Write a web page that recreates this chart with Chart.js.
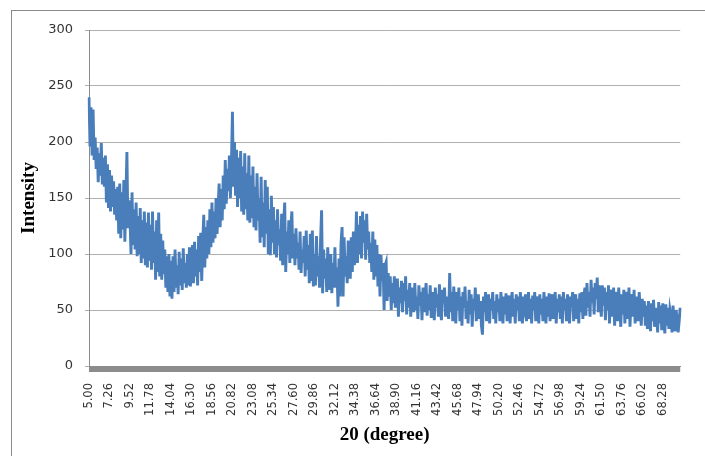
<!DOCTYPE html>
<html>
<head>
<meta charset="utf-8">
<script src="https://cdn.jsdelivr.net/npm/chart.js@4"></script>
<style>
  html, body { margin: 0; padding: 0; background: #fff; overflow: hidden; }
  #wrap { position: relative; width: 705px; height: 456px; }
  #frame { position: absolute; left: 11px; top: 10px; width: 720px; height: 470px; border: 1px solid #8a8a8a; }
  canvas { position: absolute; left: 0; top: 0; }
</style>
</head>
<body>
<div id="wrap">
  <div id="frame"></div>
  <canvas id="xrd" width="705" height="456"></canvas>
</div>
<script>
// 2θ sampling: one point every 0.113°, a label every 20th point
const startAngle = 5.00;
const angleStep = 0.113;
const labelEvery = 20;

// intensity, 20 points per label interval
const intensity = [
  240, 196, 231, 188, 229, 184, 204, 176, 195, 164, 190, 170, 199, 162, 186, 160, 188, 146, 180, 141,
  175, 138, 170, 142, 165, 135, 158, 130, 160, 118, 163, 114, 155, 122, 166, 111, 150, 191, 123, 148,
  132, 100, 155, 108, 140, 104, 146, 98, 134, 100, 141, 92, 130, 96, 138, 90, 128, 88, 137, 94,
  126, 86, 138, 92, 120, 77, 130, 84, 137, 80, 118, 77, 112, 82, 104, 70, 98, 66, 100, 62,
  94, 60, 98, 66, 104, 70, 90, 64, 102, 72, 96, 68, 105, 74, 92, 70, 100, 72, 106, 71,
  94, 108, 74, 111, 80, 104, 72, 116, 84, 119, 76, 110, 135, 88, 124, 96, 130, 100, 140, 106,
  146, 110, 138, 114, 150, 118, 142, 163, 124, 158, 130, 170, 140, 184, 145, 176, 156, 188, 150, 180,
  227, 160, 200, 152, 193, 142, 186, 150, 192, 138, 178, 135, 190, 140, 172, 130, 188, 128, 170, 132,
  178, 124, 160, 121, 172, 130, 150, 110, 169, 115, 146, 106, 166, 118, 160, 100, 140, 99, 152, 110,
  142, 100, 130, 97, 140, 108, 122, 94, 136, 90, 128, 146, 84, 120, 100, 130, 92, 124, 138, 96,
  118, 90, 123, 96, 110, 86, 120, 83, 104, 92, 116, 80, 121, 86, 108, 74, 118, 76, 121, 71,
  100, 72, 116, 80, 98, 70, 112, 139, 65, 104, 78, 96, 66, 106, 82, 68, 100, 65, 92, 70,
  106, 70, 88, 53, 96, 62, 110, 124, 62, 115, 80, 98, 74, 112, 90, 78, 115, 84, 120, 90,
  100, 138, 92, 126, 100, 134, 96, 138, 110, 130, 95, 136, 104, 120, 92, 110, 84, 120, 77, 113,
  80, 108, 71, 100, 62, 99, 76, 92, 50, 90, 93, 58, 83, 62, 80, 50, 74, 56, 80, 52,
  66, 78, 44, 70, 56, 76, 48, 74, 58, 80, 46, 68, 52, 74, 44, 64, 70, 48, 74, 50,
  62, 42, 72, 54, 66, 41, 70, 48, 60, 74, 45, 64, 50, 72, 43, 66, 56, 41, 70, 52,
  64, 44, 73, 50, 41, 68, 56, 70, 44, 62, 52, 42, 83, 48, 66, 40, 71, 54, 38, 66,
  50, 70, 40, 62, 36, 66, 52, 71, 42, 58, 38, 68, 46, 64, 35, 60, 50, 70, 40, 56,
  64, 42, 58, 36, 28, 62, 48, 66, 40, 56, 64, 38, 60, 50, 66, 42, 58, 38, 64, 48,
  60, 40, 66, 52, 38, 62, 46, 65, 40, 56, 63, 38, 58, 66, 44, 60, 38, 64, 50, 62,
  40, 66, 48, 38, 62, 54, 64, 40, 58, 66, 42, 60, 38, 63, 50, 66, 40, 56, 62, 38,
  64, 46, 60, 40, 66, 52, 38, 62, 44, 65, 40, 58, 64, 42, 56, 66, 38, 60, 48, 64,
  42, 62, 38, 66, 50, 60, 40, 64, 46, 38, 62, 54, 66, 40, 58, 64, 42, 60, 38, 65,
  48, 66, 42, 62, 70, 45, 74, 52, 66, 44, 77, 56, 70, 46, 74, 60, 79, 48, 72, 56,
  44, 72, 54, 70, 41, 66, 50, 72, 38, 62, 68, 44, 70, 36, 60, 66, 40, 70, 52, 35,
  64, 46, 68, 38, 60, 66, 42, 70, 35, 58, 64, 44, 68, 38, 56, 62, 40, 66, 50, 36,
  60, 44, 58, 36, 54, 33, 58, 46, 31, 56, 40, 59, 35, 52, 44, 30, 57, 38, 54, 32,
  56, 42, 29, 55, 36, 52, 33, 50, 44, 30, 54, 38, 31, 50, 42, 30, 40, 52
];

const angles = intensity.map((_, i) => (startAngle + i * angleStep).toFixed(2));

const yTicks = [0, 50, 100, 150, 200, 250, 300];

// Excel draws the dense category tick marks as a solid grey strip under the axis
const axisBand = {
  id: 'axisBand',
  afterDraw(chart) {
    const { ctx, chartArea: a } = chart;
    ctx.save();
    ctx.fillStyle = '#8c8c8c';
    ctx.fillRect(a.left, a.bottom, a.right - a.left, 6);
    ctx.restore();
  }
};

const ctx = document.getElementById('xrd').getContext('2d');
new Chart(ctx, {
  type: 'line',
  data: {
    labels: angles,
    datasets: [{
      data: intensity,
      borderColor: '#4a7ebb',
      borderWidth: 2.9,
      pointRadius: 0,
      tension: 0,
      fill: false
    }]
  },
  options: {
    responsive: false,
    animation: false,
    layout: { padding: { top: 30, right: 5, bottom: 0, left: 0 } },
    plugins: {
      legend: { display: false },
      tooltip: { enabled: false }
    },
    scales: {
      x: {
        type: 'category',
        offset: false,
        grid: {
          display: true,
          drawOnChartArea: false,
          drawTicks: true,
          tickLength: 6,
          tickColor: 'rgba(0,0,0,0)',
          offset: false
        },
        border: { display: true, color: '#8c8c8c', width: 1 },
        ticks: {
          autoSkip: false,
          minRotation: 90,
          maxRotation: 90,
          padding: 11,
          color: '#333',
          font: { family: 'DejaVu Sans', size: 11.5 },
          callback: function (v, i) {
            return i % labelEvery === 0 ? this.getLabelForValue(v) : '';
          }
        },
        title: {
          display: true,
          text: '20 (degree)',
          color: '#000',
          font: { family: 'Liberation Serif', size: 19, weight: 'bold' },
          padding: { top: 0, bottom: 10 }
        },
        afterFit: s => { s.height = 90; }
      },
      y: {
        min: 0,
        max: 300,
        afterBuildTicks: s => { s.ticks = yTicks.map(v => ({ value: v })); },
        grid: {
          color: '#b0b0b0',
          lineWidth: 1,
          tickLength: 4,
          drawTicks: true
        },
        border: { display: true, color: '#8c8c8c', width: 1 },
        ticks: {
          padding: 12,
          color: '#333',
          font: { family: 'DejaVu Sans', size: 13 }
        },
        title: {
          display: true,
          text: 'Intensity',
          color: '#000',
          font: { family: 'Liberation Serif', size: 19, weight: 'bold' },
          padding: { top: 18, bottom: 0 }
        },
        afterFit: s => { s.width = 89; }
      }
    }
  },
  plugins: [axisBand]
});
</script>
</body>
</html>
